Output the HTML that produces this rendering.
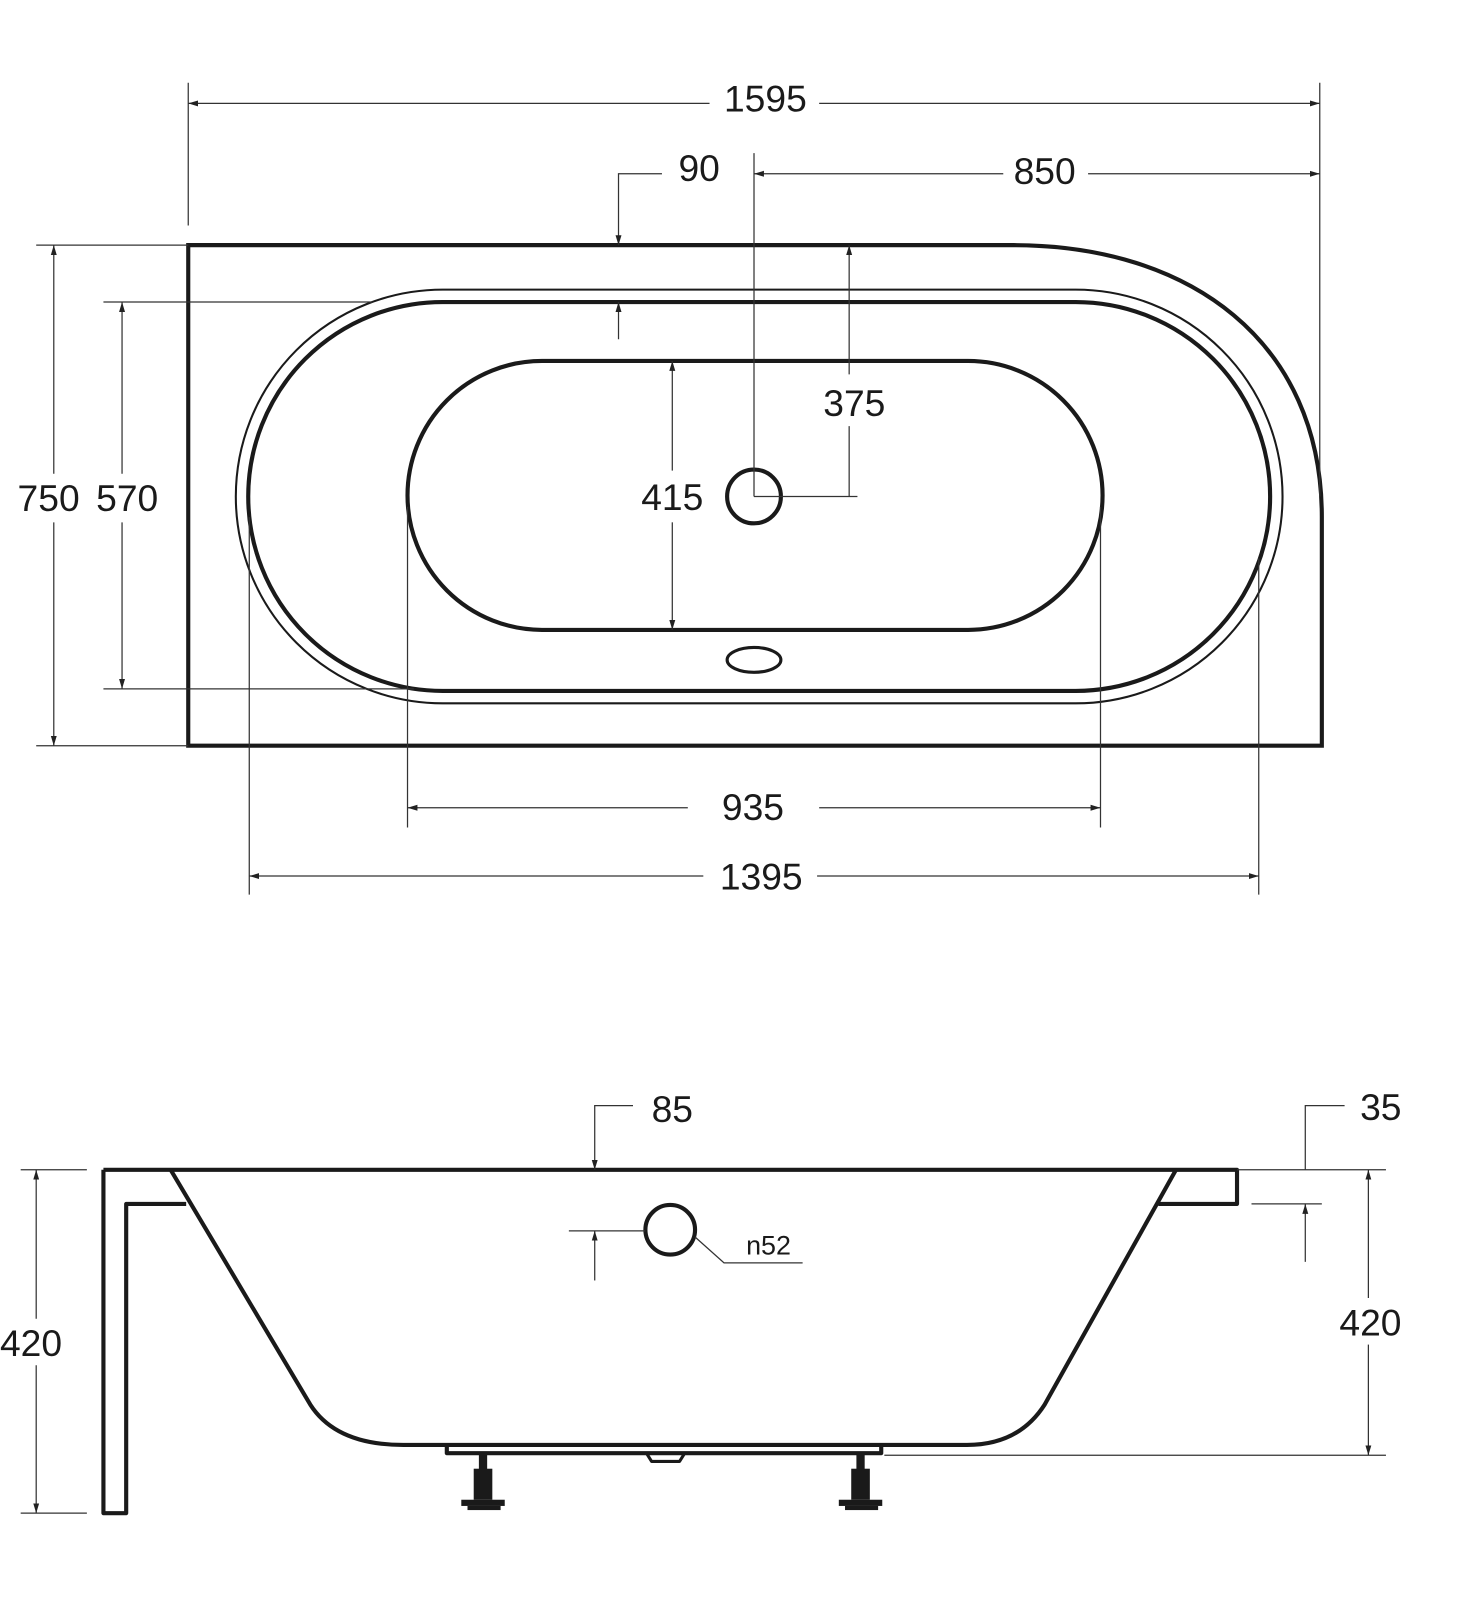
<!DOCTYPE html>
<html><head><style>body{margin:0;background:#fff}svg{display:block}text{font-family:"Liberation Sans",sans-serif;font-size:36px;fill:#1a1a1a}</style></head><body>
<svg width="1463" height="1622" viewBox="0 0 1463 1622" xmlns="http://www.w3.org/2000/svg">
<defs><marker id="a" viewBox="0 0 10 10" refX="10" refY="5" markerWidth="8" markerHeight="8" orient="auto-start-reverse"><path d="M0,2 L10,5 L0,8z" fill="#222"/></marker></defs>
<g transform="scale(1.0343)">
<g fill="none" stroke="#1a1a1a">
<path d="M182,237 H980 C1150,237 1278,330 1278,500 V721 H182 Z" stroke-width="4"/>
<rect x="228" y="280" width="1012" height="400" rx="200" stroke-width="2"/>
<rect x="240" y="292" width="988" height="376" rx="188" stroke-width="4"/>
<rect x="394" y="349" width="672" height="260" rx="130" stroke-width="4"/>
<circle cx="729" cy="480" r="26" stroke-width="4"/>
<ellipse cx="729" cy="638" rx="26" ry="12" stroke-width="3"/>
</g>
<g fill="none" stroke="#333" stroke-width="1.2">
<line x1="182" y1="80" x2="182" y2="218"/><line x1="1276" y1="80" x2="1276" y2="480"/>
<line x1="182" y1="100" x2="686" y2="100" marker-start="url(#a)"/><line x1="792" y1="100" x2="1276" y2="100" marker-end="url(#a)"/>
<line x1="729" y1="148" x2="729" y2="480"/>
<line x1="729" y1="168" x2="970" y2="168" marker-start="url(#a)"/><line x1="1052" y1="168" x2="1276" y2="168" marker-end="url(#a)"/>
<polyline points="640,168 598,168 598,237" marker-end="url(#a)"/>
<line x1="598" y1="328" x2="598" y2="292" marker-end="url(#a)"/>
<line x1="821" y1="237" x2="821" y2="362" marker-start="url(#a)"/><line x1="821" y1="412" x2="821" y2="480"/>
<line x1="729" y1="480" x2="829" y2="480"/>
<line x1="650" y1="349" x2="650" y2="455" marker-start="url(#a)"/><line x1="650" y1="505" x2="650" y2="609" marker-end="url(#a)"/>
<line x1="35" y1="237" x2="182" y2="237"/><line x1="35" y1="721" x2="182" y2="721"/>
<line x1="52" y1="237" x2="52" y2="458" marker-start="url(#a)"/><line x1="52" y1="505" x2="52" y2="721" marker-end="url(#a)"/>
<line x1="100" y1="292" x2="360" y2="292"/><line x1="100" y1="666" x2="400" y2="666"/>
<line x1="118" y1="292" x2="118" y2="458" marker-start="url(#a)"/><line x1="118" y1="505" x2="118" y2="666" marker-end="url(#a)"/>
<line x1="394" y1="490" x2="394" y2="800"/><line x1="1064" y1="490" x2="1064" y2="800"/>
<line x1="394" y1="781" x2="665" y2="781" marker-start="url(#a)"/><line x1="792" y1="781" x2="1064" y2="781" marker-end="url(#a)"/>
<line x1="241" y1="500" x2="241" y2="865"/><line x1="1217" y1="540" x2="1217" y2="865"/>
<line x1="241" y1="847" x2="680" y2="847" marker-start="url(#a)"/><line x1="790" y1="847" x2="1217" y2="847" marker-end="url(#a)"/>
</g>
<text x="740" y="108" text-anchor="middle">1595</text>
<text x="1010" y="178" text-anchor="middle">850</text>
<text x="676" y="175" text-anchor="middle">90</text>
<text x="826" y="402" text-anchor="middle">375</text>
<text x="650" y="493" text-anchor="middle">415</text>
<text x="47" y="494" text-anchor="middle">750</text>
<text x="123" y="494" text-anchor="middle">570</text>
<text x="728" y="793" text-anchor="middle">935</text>
<text x="736" y="860" text-anchor="middle">1395</text>
<g fill="none" stroke="#1a1a1a" stroke-width="4" stroke-linejoin="round">
<path d="M100,1131 H1196 V1164 H1120"/>
<path d="M100,1131 V1463 H122 V1164 H180"/>
<path d="M165,1131 L300,1358 Q325,1397 390,1397 H935 Q985,1397 1010,1358 L1137,1131"/>
<path d="M432,1399 V1405 H852 V1399" stroke-width="4"/>
<path d="M625,1405 L630,1413 H657 L662,1405" stroke-width="3"/>
<circle cx="648" cy="1189" r="24"/>
</g>
<g fill="#1a1a1a">
<rect x="463" y="1406" width="8" height="16"/><rect x="458" y="1420" width="18" height="30"/><rect x="446" y="1450" width="42" height="6"/><rect x="452" y="1456" width="32" height="4"/>
<rect x="828" y="1406" width="8" height="16"/><rect x="823" y="1420" width="18" height="30"/><rect x="811" y="1450" width="42" height="6"/><rect x="817" y="1456" width="32" height="4"/>
</g>
<g fill="none" stroke="#333" stroke-width="1.2">
<polyline points="612,1069 575,1069 575,1131" marker-end="url(#a)"/>
<polyline points="1300,1069 1262,1069 1262,1131"/>
<line x1="1196" y1="1131" x2="1340" y2="1131"/>
<line x1="1210" y1="1164" x2="1278" y2="1164"/>
<line x1="1262" y1="1220" x2="1262" y2="1164" marker-end="url(#a)"/>
<line x1="855" y1="1407" x2="1340" y2="1407"/>
<line x1="1323" y1="1131" x2="1323" y2="1255" marker-start="url(#a)"/><line x1="1323" y1="1300" x2="1323" y2="1407" marker-end="url(#a)"/>
<line x1="20" y1="1131" x2="84" y2="1131"/><line x1="20" y1="1463" x2="84" y2="1463"/>
<line x1="35" y1="1131" x2="35" y2="1275" marker-start="url(#a)"/><line x1="35" y1="1320" x2="35" y2="1463" marker-end="url(#a)"/>
<line x1="550" y1="1190" x2="624" y2="1190"/>
<line x1="575" y1="1238" x2="575" y2="1190" marker-end="url(#a)"/>
<polyline points="672,1196 700,1221 776,1221"/>
</g>
<text x="650" y="1085" text-anchor="middle">85</text>
<text x="1335" y="1083" text-anchor="middle">35</text>
<text x="1325" y="1291" text-anchor="middle">420</text>
<text x="30" y="1311" text-anchor="middle">420</text>
<text x="743" y="1213" text-anchor="middle" style="font-size:26px">n52</text>
</g>
</svg>
</body></html>
